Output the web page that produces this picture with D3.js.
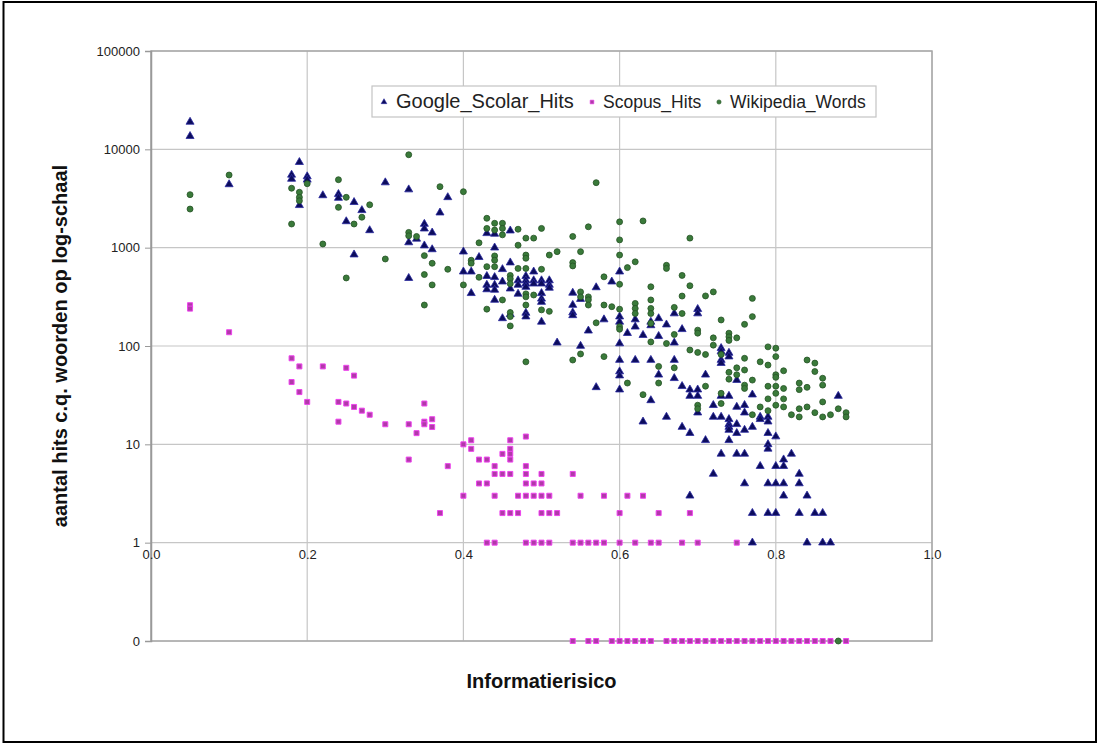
<!DOCTYPE html>
<html>
<head>
<meta charset="utf-8">
<script src="https://cdn.jsdelivr.net/npm/d3@7"></script>
<style>
  body { margin: 0; background: #fff; }
  svg text { font-family: "Liberation Sans", Arial, sans-serif; }
</style>
</head>
<body>
<div id="scatter"></div>
<script>

// tick values and series names
var xTicks = [0, 0.2, 0.4, 0.6, 0.8, 1.0];
var yTicks = [0.1, 1, 10, 100, 1000, 10000, 100000];
var seriesNames = ["Google_Scolar_Hits", "Scopus_Hits", "Wikipedia_Words"];

// each row: [informatierisico, [hits ...]]  (0 hits is drawn on the "0" line)
var googleHits = [
  [0.05,[19000,13600]],[0.10,[4400]],[0.18,[5500,5000]],[0.19,[7400,2700]],[0.20,[5300,4900]],
  [0.22,[3400]],[0.24,[3500,3200]],[0.25,[1850]],[0.26,[2900,850]],[0.27,[2400]],[0.28,[1500]],
  [0.30,[4600]],[0.33,[3900,1130,490]],[0.34,[1230]],[0.35,[1740,1560,1050]],[0.36,[1420,960]],
  [0.37,[2270]],[0.38,[3250]],[0.40,[910,570]],[0.41,[570,344]],[0.42,[800]],
  [0.43,[1400,513,418,376]],[0.44,[1380,1000,500,418,372,294]],[0.45,[603,451,191]],
  [0.46,[1490,705,383,210]],[0.47,[464,418,339]],[0.48,[513,464,430,398,217,199]],
  [0.49,[570,464,430]],[0.50,[464,430,344,302,280,176]],[0.51,[464,418,390]],[0.52,[108]],
  [0.54,[347,261,219,205]],[0.55,[300,100]],[0.56,[143]],[0.57,[394,38]],[0.58,[186]],
  [0.59,[451]],[0.60,[570,199,176,106,72,55,50,36]],[0.61,[135]],[0.62,[186,157,72]],
  [0.63,[129,17]],[0.64,[176,162,72,28]],[0.65,[191,126,51]],[0.66,[165,19]],
  [0.67,[214,108,72,47]],[0.68,[148,39,15]],[0.69,[36,31,13,3]],[0.70,[237,214,36,31,21]],
  [0.71,[51,11]],[0.72,[25,19,5]],[0.73,[95,88,72,67,31,19,8]],[0.74,[85,78,31,18,16,15,14,11]],
  [0.75,[45,24,16,13,8]],[0.76,[25,21,14,8,4]],[0.77,[32,15,2,1]],[0.78,[19,18,6]],
  [0.79,[19,17,13,10,9,4,2]],[0.80,[12,6,4,2]],[0.81,[7,6,4,3]],[0.82,[8]],[0.83,[5,4,2]],
  [0.84,[3,1]],[0.85,[2]],[0.86,[2,1]],[0.87,[1]],[0.88,[31]]
];

var scopusHits = [
  [0.05,[260,240]],[0.10,[138]],[0.18,[75,43]],[0.19,[62,34]],[0.20,[27]],[0.22,[62]],
  [0.24,[27,17]],[0.25,[60,26]],[0.26,[50,24]],[0.27,[22]],[0.28,[20]],[0.30,[16]],
  [0.33,[16,7]],[0.34,[13]],[0.35,[26,17,16]],[0.36,[18,15]],[0.37,[2]],[0.38,[6]],
  [0.40,[10,3]],[0.41,[11,9]],[0.42,[7,4]],[0.43,[7,4,1]],[0.44,[6,5,3,1]],[0.45,[8,5,2]],
  [0.46,[11,9,8,7,5,2]],[0.47,[3,2]],[0.48,[12,6,5,4,3,1]],[0.49,[4,3,1]],[0.50,[5,4,3,2,1]],
  [0.51,[3,2,1]],[0.52,[2]],[0.54,[5,1,0]],[0.55,[3,1]],[0.56,[1,0]],[0.57,[1,0]],[0.58,[3,1]],
  [0.59,[0]],[0.60,[2,1,0]],[0.61,[3,0]],[0.62,[1,0]],[0.63,[3,0]],[0.64,[1,0]],[0.65,[2,1]],
  [0.66,[0]],[0.67,[0]],[0.68,[1,0]],[0.69,[2,0]],[0.70,[1,0]],[0.71,[0]],[0.72,[0]],[0.73,[0]],
  [0.74,[0]],[0.75,[1,0]],[0.76,[0]],[0.77,[0]],[0.78,[0]],[0.79,[0]],[0.80,[0]],[0.81,[0]],
  [0.82,[0]],[0.83,[0]],[0.84,[0]],[0.85,[0]],[0.86,[0]],[0.87,[0]],[0.89,[0]]
];

var wikipediaWords = [
  [0.05,[3460,2470]],[0.10,[5480]],[0.18,[4020,1740]],[0.19,[3660,3250,3000]],[0.20,[4470]],
  [0.22,[1090]],[0.24,[4910,2570]],[0.25,[3250,492]],[0.26,[1740]],[0.27,[2040]],[0.28,[2730]],
  [0.30,[767]],[0.33,[8810,1430,1320]],[0.34,[1300]],[0.35,[830,533,261]],[0.36,[694,418]],
  [0.37,[4170]],[0.38,[603]],[0.40,[3710,418]],[0.41,[745,694]],[0.42,[1120,500]],
  [0.43,[1990,1570,641,237]],[0.44,[1770,1510,824,745,641]],[0.45,[1770,1570,1350,294]],
  [0.46,[522,483,430,219,199,160]],[0.47,[1540,1060,615]],[0.48,[1250,841,780,615,339,316,261,69]],
  [0.49,[1250,330]],[0.50,[1570,603,233]],[0.51,[841,225]],[0.52,[911]],[0.54,[1300,705,652,72]],
  [0.55,[911,355,316,83]],[0.56,[1630,316,295,261]],[0.57,[4580,172]],[0.58,[505,261,78]],
  [0.59,[251]],[0.60,[1830,1200,841,424,237,157,148]],[0.61,[627,42]],[0.62,[718,271,241,214]],
  [0.63,[1870,32]],[0.64,[400,294,241,214,170,110]],[0.65,[62,42]],[0.66,[662,615,106]],
  [0.67,[247,131,60]],[0.68,[522,322,214]],[0.69,[1250,410,91]],[0.70,[145,135,86,25,23]],
  [0.71,[323,82,39]],[0.72,[355,121,102]],[0.73,[184,82,33,26]],[0.74,[135,124,114,54,46]],
  [0.75,[121,60,51]],[0.76,[166,75,57,40,37]],[0.77,[305,199,45,20]],[0.78,[69,24]],
  [0.79,[98,64,39,29,22]],[0.80,[95,78,51,48,39,33,25]],[0.81,[56,37,29,24]],[0.82,[20]],
  [0.83,[42,36,23,19]],[0.84,[72,38,24]],[0.85,[67,55,21]],[0.86,[47,40,27,19]],[0.87,[20]],
  [0.88,[23,0]],[0.89,[21,19]]
];

// flatten [x,[y..]] rows into points
function toPoints(rows) {
  var pts = [];
  rows.forEach(function(r) {
    r[1].forEach(function(v) { pts.push({x: r[0], y: v}); });
  });
  return pts;
}

var svgWidth = 1099;
var svgHeight = 744;

var margin = {top: 51, right: 167, bottom: 103, left: 151};
var chartWidth = svgWidth - margin.left - margin.right;
var chartHeight = svgHeight - margin.top - margin.bottom;

var svg = d3.select("#scatter")
  .append("svg")
  .attr("width", svgWidth)
  .attr("height", svgHeight);

// outer frame
svg.append("rect")
  .attr("x", 3.5).attr("y", 2)
  .attr("width", svgWidth - 6.5).attr("height", svgHeight - 4)
  .attr("fill", "#fff")
  .attr("stroke", "#000")
  .attr("stroke-width", 2);

var chartGroup = svg.append("g")
  .attr("transform", `translate(${margin.left},${margin.top})`);

var xScale = d3.scaleLinear().domain([0, 1]).range([0, chartWidth]);
var yScale = d3.scaleLog().domain([0.1, 100000]).range([chartHeight, 0]);

// zero can't go on a log axis: it sits on the bottom line labelled "0"
function yPos(v) { return yScale(Math.max(v, 0.1)); }

// gridlines
chartGroup.append("g")
  .selectAll("line.hgrid")
  .data(yTicks)
  .enter().append("line")
  .attr("x1", 0).attr("x2", chartWidth)
  .attr("y1", d => yScale(d)).attr("y2", d => yScale(d))
  .attr("stroke", "#c6c6c6").attr("stroke-width", 1.2);

chartGroup.append("g")
  .selectAll("line.vgrid")
  .data(xTicks)
  .enter().append("line")
  .attr("x1", d => xScale(d)).attr("x2", d => xScale(d))
  .attr("y1", 0).attr("y2", chartHeight)
  .attr("stroke", "#c6c6c6").attr("stroke-width", 1.2);

chartGroup.append("rect")
  .attr("width", chartWidth).attr("height", chartHeight)
  .attr("fill", "none")
  .attr("stroke", "#a8a8a8").attr("stroke-width", 1.5);

// y axis
var leftAxis = d3.axisLeft(yScale)
  .tickValues(yTicks)
  .tickSize(6)
  .tickPadding(5)
  .tickFormat(d => d < 1 ? "0" : d3.format("d")(d));

var yAxisG = chartGroup.append("g").call(leftAxis);
yAxisG.select(".domain").attr("stroke", "#999").attr("stroke-width", 1.5);
yAxisG.selectAll(".tick line").attr("stroke", "#999");
yAxisG.selectAll("text").attr("font-size", "13px").attr("fill", "#222");

// x axis labels sit under the line at 1
var bottomAxis = d3.axisBottom(xScale)
  .tickValues(xTicks)
  .tickSize(0)
  .tickPadding(7)
  .tickFormat(d3.format(".1f"));

var xAxisG = chartGroup.append("g")
  .attr("transform", `translate(0,${yScale(1)})`)
  .call(bottomAxis);
xAxisG.select(".domain").remove();
xAxisG.selectAll("text").attr("font-size", "13px").attr("fill", "#222");

// markers
var triangle = d3.symbol().type(d3.symbolTriangle).size(28);
var square = d3.symbol().type(d3.symbolSquare).size(25);
var dot = d3.symbol().type(d3.symbolCircle).size(28);

chartGroup.append("g").selectAll("path")
  .data(toPoints(googleHits))
  .enter().append("path")
  .attr("d", triangle)
  .attr("transform", d => `translate(${xScale(d.x)},${yPos(d.y)})`)
  .attr("fill", "#0c0c5c")
  .attr("stroke", "#2a2aa0").attr("stroke-width", 0.8);

chartGroup.append("g").selectAll("path")
  .data(toPoints(scopusHits))
  .enter().append("path")
  .attr("d", square)
  .attr("transform", d => `translate(${xScale(d.x)},${yPos(d.y)})`)
  .attr("fill", "#b03aa8")
  .attr("stroke", "#ee44ee").attr("stroke-width", 1);

chartGroup.append("g").selectAll("path")
  .data(toPoints(wikipediaWords))
  .enter().append("path")
  .attr("d", dot)
  .attr("transform", d => `translate(${xScale(d.x)},${yPos(d.y)})`)
  .attr("fill", "#3a7a3a")
  .attr("stroke", "#245224").attr("stroke-width", 0.8);

// axis titles
chartGroup.append("text")
  .attr("transform", `translate(${chartWidth / 2}, ${chartHeight + 47})`)
  .attr("text-anchor", "middle")
  .attr("font-size", "20px")
  .attr("font-weight", "bold")
  .attr("fill", "#111")
  .text("Informatierisico");

chartGroup.append("text")
  .attr("transform", `translate(-84,${chartHeight / 2}) rotate(-90)`)
  .attr("text-anchor", "middle")
  .attr("font-size", "20px")
  .attr("font-weight", "bold")
  .attr("fill", "#111")
  .text("aantal hits c.q. woorden op log-schaal");

// legend
var legend = svg.append("g").attr("transform", "translate(372,86)");
legend.append("rect")
  .attr("width", 504).attr("height", 31)
  .attr("fill", "#fff")
  .attr("stroke", "#c4c4c4").attr("stroke-width", 1.2);

var legendItems = [
  {x: 12, tx: 24, size: "20px", sym: triangle, fill: "#0c0c5c", stroke: "#2a2aa0"},
  {x: 220, tx: 231, size: "17.5px", sym: square, fill: "#b03aa8", stroke: "#ee44ee"},
  {x: 347, tx: 358, size: "17.5px", sym: dot, fill: "#3a7a3a", stroke: "#245224"}
];

legendItems.forEach(function(it, i) {
  legend.append("path")
    .attr("d", it.sym.size(14)())
    .attr("transform", `translate(${it.x},16)`)
    .attr("fill", it.fill).attr("stroke", it.stroke).attr("stroke-width", 0.6);
  legend.append("text")
    .attr("x", it.tx).attr("y", 22)
    .attr("font-size", it.size)
    .attr("fill", "#222")
    .text(seriesNames[i]);
});

</script>
</body>
</html>
